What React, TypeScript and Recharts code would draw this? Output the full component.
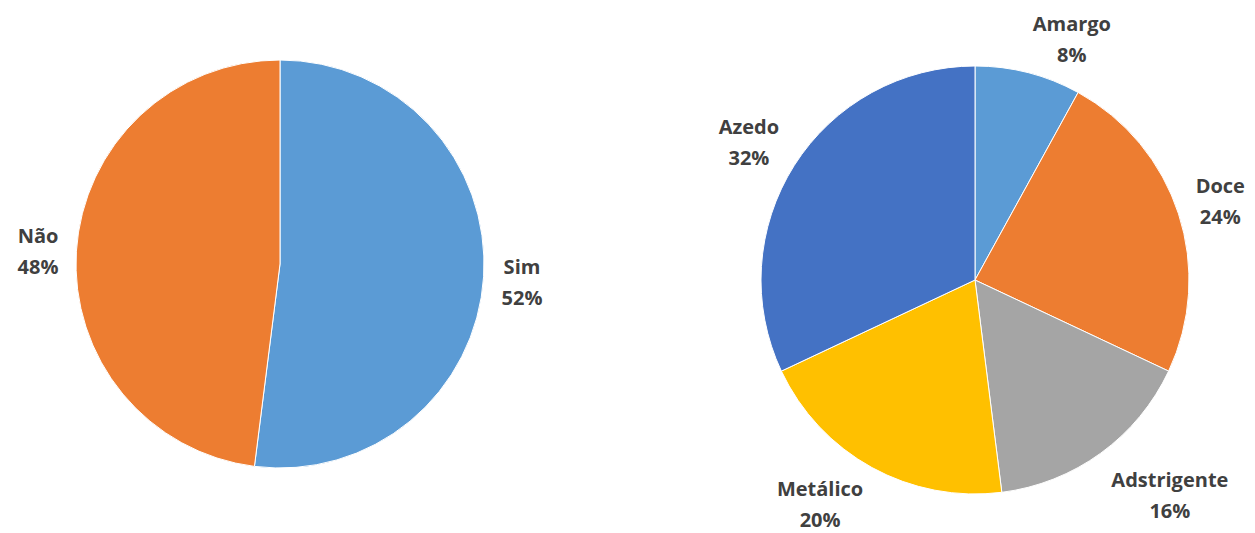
import { Pie, PieChart, Cell } from 'recharts';

const respostas = ['Sim', 'Não'];
const respostasPct = [52, 48];
const respostasCores = ['#5B9BD5', '#ED7D31'];

const sabores = ['Amargo', 'Doce', 'Adstrigente', 'Metálico', 'Azedo'];
const saboresPct = [8, 24, 16, 20, 32];
const saboresCores = ['#5B9BD5', '#ED7D31', '#A5A5A5', '#FFC000', '#4472C4'];

const RAD = Math.PI / 180;
const FONT = "bold 20px 'Open Sans'";
const LINE = 31;

let ctx: CanvasRenderingContext2D | null = null;
function textWidth(t: string) {
  if (!ctx) ctx = document.createElement('canvas').getContext('2d');
  if (!ctx) return t.length * 11;
  ctx.font = FONT;
  return ctx.measureText(t).width;
}

// label box sits outside the slice end, like Excel's "outside end"
function makeLabel(gap: number, minY: number, maxY: number) {
  return (props: any) => {
    const { cx, cy, midAngle, outerRadius, name, value } = props;
    const pct = `${value}%`;
    const w = Math.max(textWidth(String(name)), textWidth(pct));
    const h = LINE * 2;
    const c = Math.cos(-midAngle * RAD);
    const s = Math.sin(-midAngle * RAD);
    const px = cx + (outerRadius + gap) * c;
    const py = cy + (outerRadius + gap) * s;
    const x = px + Math.sign(c) * w / 2;
    const y = Math.min(maxY, Math.max(minY, py + s * h / 2 + 4));
    return (
      <text x={x} y={y} textAnchor="middle" fill="#404040" fontFamily="'Open Sans', sans-serif" fontWeight={700} fontSize={20}>
        <tspan x={x} dy={-LINE / 2 + 6}>{name}</tspan>
        <tspan x={x} dy={LINE}>{pct}</tspan>
      </text>
    );
  };
}

const noMargin = { top: 0, right: 0, bottom: 0, left: 0 };

export default function App() {
  const dadosResp = respostas.map((name, i) => ({ name, value: respostasPct[i] }));
  const dadosSab = sabores.map((name, i) => ({ name, value: saboresPct[i] }));
  return (
    <div style={{ position: 'absolute', left: 0, top: 0, width: 1255, height: 533, background: '#fff', display: 'flex' }}>
      <PieChart width={600} height={533} margin={noMargin}>
        <Pie data={dadosResp} dataKey="value" nameKey="name" cx={280} cy={264} outerRadius={204}
          startAngle={90} endAngle={-270} stroke="#fff" strokeWidth={1}
          label={makeLabel(18, 0, 505)} labelLine={false} isAnimationActive={false}>
          {dadosResp.map((d, i) => <Cell key={d.name} fill={respostasCores[i]} />)}
        </Pie>
      </PieChart>
      <PieChart width={655} height={533} margin={noMargin}>
        <Pie data={dadosSab} dataKey="value" nameKey="name" cx={375} cy={280} outerRadius={214}
          startAngle={90} endAngle={-270} stroke="#fff" strokeWidth={1}
          label={makeLabel(18, 40, 505)} labelLine={false} isAnimationActive={false}>
          {dadosSab.map((d, i) => <Cell key={d.name} fill={saboresCores[i]} />)}
        </Pie>
      </PieChart>
    </div>
  );
}
